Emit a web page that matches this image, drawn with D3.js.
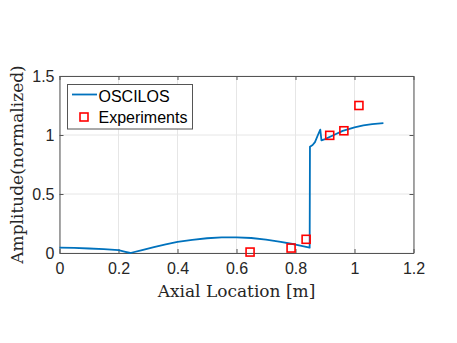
<!DOCTYPE html>
<html><head><meta charset="utf-8">
<script src="https://cdn.jsdelivr.net/npm/d3@7"></script>
<style>body{margin:0;background:#fff}svg{display:block}</style>
</head><body>
<script>
const lineX = [0,0.05,0.1,0.15,0.2,0.22,0.24,0.28,0.32,0.36,0.4,0.45,0.5,0.55,0.6,0.65,0.7,0.75,0.8,0.848,0.849,0.858,0.866,0.876,0.884,0.888,0.9,0.93,0.96,1.0,1.03,1.06,1.098];
const lineY = [0.045,0.043,0.038,0.032,0.024,0.012,0.0,0.025,0.05,0.074,0.094,0.112,0.125,0.132,0.133,0.127,0.113,0.095,0.072,0.045,0.90,0.915,0.94,1.0,1.045,0.955,0.965,1.0,1.035,1.065,1.082,1.093,1.10];
const expX = [0.646,0.785,0.836,0.916,0.964,1.015];
const expY = [0.008,0.042,0.116,0.997,1.036,1.25];
const xTicks = [0,0.2,0.4,0.6,0.8,1,1.2];
const yTicks = [0,0.5,1,1.5];
const xTickLabels = ["0","0.2","0.4","0.6","0.8","1","1.2"];
const yTickLabels = ["0","0.5","1","1.5"];

const W=457,H=343;
const L=59.5,R=413.5,T=76,B=253;
const svg=d3.select("body").append("svg").attr("width",W).attr("height",H);
const x=d3.scaleLinear().domain([0,1.2]).range([L,R]);
const y=d3.scaleLinear().domain([0,1.5]).range([B,T]);
const sans="'Liberation Sans', Arial, sans-serif";
const serif="'DejaVu Serif', 'Liberation Serif', serif";

// grid
svg.append("g").selectAll("line").data(xTicks).join("line")
  .attr("x1",d=>x(d)).attr("x2",d=>x(d)).attr("y1",T).attr("y2",B)
  .attr("stroke","#e6e6e6").attr("stroke-width",1);
svg.append("g").selectAll("line").data(yTicks).join("line")
  .attr("y1",d=>y(d)).attr("y2",d=>y(d)).attr("x1",L).attr("x2",R)
  .attr("stroke","#e6e6e6").attr("stroke-width",1);

// axes
const ax=d3.axisBottom(x).tickValues(xTicks).tickFormat((d,i)=>xTickLabels[i]).tickSizeInner(-4).tickSizeOuter(0).tickPadding(10);
const gx=svg.append("g").attr("transform",`translate(0,${B})`).call(ax);
const axT=d3.axisTop(x).tickValues(xTicks).tickFormat("").tickSizeInner(-4).tickSizeOuter(0);
const gxt=svg.append("g").attr("transform",`translate(0,${T})`).call(axT);
const ay=d3.axisLeft(y).tickValues(yTicks).tickFormat((d,i)=>yTickLabels[i]).tickSizeInner(-4).tickSizeOuter(0).tickPadding(5);
const gy=svg.append("g").attr("transform",`translate(${L},0)`).call(ay);
const ayR=d3.axisRight(y).tickValues(yTicks).tickFormat("").tickSizeInner(-4).tickSizeOuter(0);
const gyr=svg.append("g").attr("transform",`translate(${R},0)`).call(ayR);
[gx,gxt,gy,gyr].forEach(g=>{
  g.selectAll("path").attr("stroke","#555").attr("stroke-width",1);
  g.selectAll("line").attr("stroke","#555").attr("stroke-width",1);
  g.selectAll("text").attr("fill","#262626").style("font-family",sans).style("font-size","16px");
});

// line
const pts=lineX.map((v,i)=>[v,lineY[i]]);
svg.append("path").datum(pts)
  .attr("d",d3.line().x(d=>x(d[0])).y(d=>y(d[1])))
  .attr("fill","none").attr("stroke","#0072BD").attr("stroke-width",1.8).attr("stroke-linejoin","round");

// experiments
const ep=expX.map((v,i)=>[v,expY[i]]);
svg.append("g").selectAll("rect").data(ep).join("rect")
  .attr("x",d=>x(d[0])-4).attr("y",d=>y(d[1])-4).attr("width",8).attr("height",8)
  .attr("fill","none").attr("stroke","#ff0000").attr("stroke-width",1.6);

// labels
svg.append("text").attr("x",(L+R)/2).attr("y",297).attr("text-anchor","middle")
  .style("font-family",serif).style("font-size","17px").attr("fill","#262626").text("Axial Location [m]");
svg.append("text").attr("transform",`translate(23,${(T+B)/2}) rotate(-90)`).attr("text-anchor","middle")
  .style("font-family",serif).style("font-size","17px").attr("fill","#262626").text("Amplitude(normalized)");

// legend
const lg=svg.append("g");
lg.append("rect").attr("x",67.5).attr("y",84.5).attr("width",125).attr("height",44.5)
  .attr("fill","#fff").attr("stroke","#555").attr("stroke-width",1);
lg.append("line").attr("x1",72).attr("x2",97).attr("y1",94.5).attr("y2",94.5).attr("stroke","#0072BD").attr("stroke-width",1.8);
lg.append("text").attr("x",98.5).attr("y",102.3).style("font-family",sans).style("font-size","16px").attr("fill","#000").text("OSCILOS");
lg.append("rect").attr("x",80).attr("y",113).attr("width",8).attr("height",8).attr("fill","none").attr("stroke","#ff0000").attr("stroke-width",1.6);
lg.append("text").attr("x",98.5).attr("y",123.3).style("font-family",sans).style("font-size","16px").attr("fill","#000").text("Experiments");
</script>
</body></html>
